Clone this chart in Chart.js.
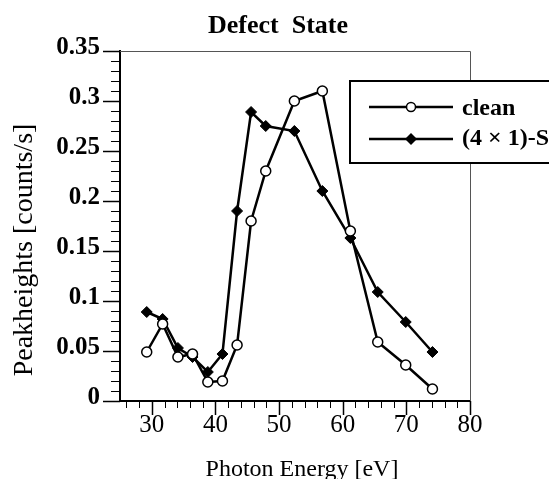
<!DOCTYPE html>
<html>
<head>
<meta charset="utf-8">
<script src="https://cdn.jsdelivr.net/npm/chart.js@4.4.0/dist/chart.umd.min.js"></script>
<style>
	html, body { margin: 0; padding: 0; background: #fff; }
	#wrap { width: 549px; height: 479px; position: relative; }
</style>
</head>
<body>
<div id="wrap"><canvas id="chart-defect-state"></canvas></div>
<script>
// Chart data
const PHOTON_ENERGY = [29.2, 31.7, 34.1, 36.4, 38.8, 41.1, 43.4, 45.6, 47.9, 52.4, 56.8, 61.2, 65.5, 69.9, 74.1];
const CLEAN = [0.049, 0.077, 0.044, 0.047, 0.019, 0.020, 0.056, 0.18, 0.23, 0.30, 0.31, 0.17, 0.059, 0.036, 0.012];
const SULFUR = [0.089, 0.082, 0.053, 0.044, 0.029, 0.047, 0.19, 0.289, 0.275, 0.27, 0.21, 0.163, 0.109, 0.079, 0.049];
const SERIES_LABELS = ["clean", "(4 × 1)-S"];
const X_TICKS = [30, 40, 50, 60, 70, 80];
const Y_TICKS = [0, 0.05, 0.1, 0.15, 0.2, 0.25, 0.3, 0.35];

const FONT = "'Liberation Serif', 'Times New Roman', serif";

const toPoints = (values) => PHOTON_ENERGY.map((x, i) => ({ x: x, y: values[i] }));
const hasTick = (list, v) => list.some((t) => Math.abs(t - v) < 1e-6);

// title, axis frame, minor ticks, axis titles and legend
const framePlugin = {
	id: "frame",
	afterDraw(chart) {
		const { ctx } = chart;
		const xs = chart.scales.x;
		const ys = chart.scales.y;
		const left = xs.left, right = xs.right, top = ys.top, bottom = ys.bottom;

		ctx.save();
		// chart title
		ctx.fillStyle = "#000";
		ctx.font = "bold 26px " + FONT;
		ctx.textAlign = "center";
		ctx.textBaseline = "alphabetic";
		ctx.fillText("Defect  State", 278, 33);

		// top and right border
		ctx.strokeStyle = "#555";
		ctx.lineWidth = 1;
		ctx.beginPath();
		ctx.moveTo(left, top + 0.5);
		ctx.lineTo(right + 0.5, top + 0.5);
		ctx.lineTo(right + 0.5, bottom);
		ctx.stroke();

		// x ticks
		ctx.strokeStyle = "#000";
		for (let v = 26; v <= 80; v += 2) {
			const px = Math.round(xs.getPixelForValue(v)) + 0.5;
			const major = hasTick(X_TICKS, v);
			ctx.lineWidth = major ? 1.5 : 1;
			ctx.beginPath();
			ctx.moveTo(px, bottom);
			ctx.lineTo(px, bottom + (major ? 14 : 7));
			ctx.stroke();
		}
		// y ticks
		for (let i = 0; i <= 35; i++) {
			const v = i / 100;
			const py = Math.round(ys.getPixelForValue(v)) + 0.5;
			const major = hasTick(Y_TICKS, v);
			ctx.lineWidth = major ? 1.5 : 1;
			ctx.beginPath();
			ctx.moveTo(left - (major ? 17 : 9), py);
			ctx.lineTo(left, py);
			ctx.stroke();
		}

		// axis titles
		ctx.font = "24px " + FONT;
		ctx.fillText("Photon Energy [eV]", 302, 476);
		ctx.save();
		ctx.translate(32, 250);
		ctx.rotate(-Math.PI / 2);
		ctx.font = "28px " + FONT;
		ctx.fillText("Peakheights [counts/s]", 0, 0);
		ctx.restore();

		// legend
		ctx.fillStyle = "#fff";
		ctx.fillRect(350, 81, 220, 82);
		ctx.strokeStyle = "#000";
		ctx.lineWidth = 2;
		ctx.strokeRect(350, 81, 220, 82);

		const rows = [107, 139];
		rows.forEach((y, i) => {
			ctx.lineWidth = 2.5;
			ctx.beginPath();
			ctx.moveTo(369, y);
			ctx.lineTo(453, y);
			ctx.stroke();
			ctx.lineWidth = 1.5;
			if (i === 0) {
				ctx.fillStyle = "#fff";
				ctx.beginPath();
				ctx.arc(411, y, 4.5, 0, Math.PI * 2);
				ctx.fill();
				ctx.stroke();
			} else {
				ctx.fillStyle = "#000";
				ctx.beginPath();
				ctx.moveTo(411, y - 6);
				ctx.lineTo(417, y);
				ctx.lineTo(411, y + 6);
				ctx.lineTo(405, y);
				ctx.closePath();
				ctx.fill();
			}
		});
		ctx.fillStyle = "#000";
		ctx.font = "bold 24px " + FONT;
		ctx.textAlign = "left";
		ctx.fillText(SERIES_LABELS[0], 462, 115);
		ctx.fillText(SERIES_LABELS[1], 462, 145);
		ctx.restore();
	},
};

// Chart config
const CONFIG = {
	type: "line",
	data: {
		datasets: [
			{
				label: SERIES_LABELS[0],
				data: toPoints(CLEAN),
				borderColor: "#000",
				borderWidth: 2.5,
				pointStyle: "circle",
				pointRadius: 5,
				pointBorderWidth: 1.5,
				pointBackgroundColor: "#fff",
				pointBorderColor: "#000",
				tension: 0,
			},
			{
				label: SERIES_LABELS[1],
				data: toPoints(SULFUR),
				borderColor: "#000",
				borderWidth: 2.5,
				pointStyle: "rectRot",
				pointRadius: 5.5,
				pointBorderWidth: 1,
				pointBackgroundColor: "#000",
				pointBorderColor: "#000",
				tension: 0,
			},
		],
	},
	options: {
		responsive: true,
		maintainAspectRatio: false,
		animation: false,
		devicePixelRatio: 1,
		layout: {
			padding: { left: 0, right: 79, top: 51, bottom: 0 },
		},
		plugins: {
			legend: { display: false },
			tooltip: { enabled: false },
			title: { display: false },
		},
		scales: {
			x: {
				type: "linear",
				min: 25,
				max: 80,
				afterFit: (scale) => { scale.height = 78; },
				afterBuildTicks: (scale) => { scale.ticks = X_TICKS.map((v) => ({ value: v })); },
				border: { display: true, color: "#000", width: 2 },
				grid: { display: false, drawTicks: false },
				ticks: {
					autoSkip: false,
					maxRotation: 0,
					padding: 9,
					color: "#000",
					font: { family: FONT, size: 25 },
					callback: (v) => String(v),
				},
			},
			y: {
				min: 0,
				max: 0.35,
				afterFit: (scale) => { scale.width = 120; },
				afterBuildTicks: (scale) => { scale.ticks = Y_TICKS.map((v) => ({ value: v })); },
				border: { display: true, color: "#000", width: 2 },
				grid: { display: false, drawTicks: false },
				ticks: {
					autoSkip: false,
					padding: 20,
					labelOffset: -3,
					color: "#000",
					font: { family: FONT, size: 25, weight: "bold" },
					callback: (v) => String(+Number(v).toFixed(2)),
				},
			},
		},
	},
	plugins: [framePlugin],
};

// Init chart
const WRAPPER = document.getElementById("chart-defect-state");
if (WRAPPER) {
	new Chart(WRAPPER, CONFIG);
}
</script>
</body>
</html>
